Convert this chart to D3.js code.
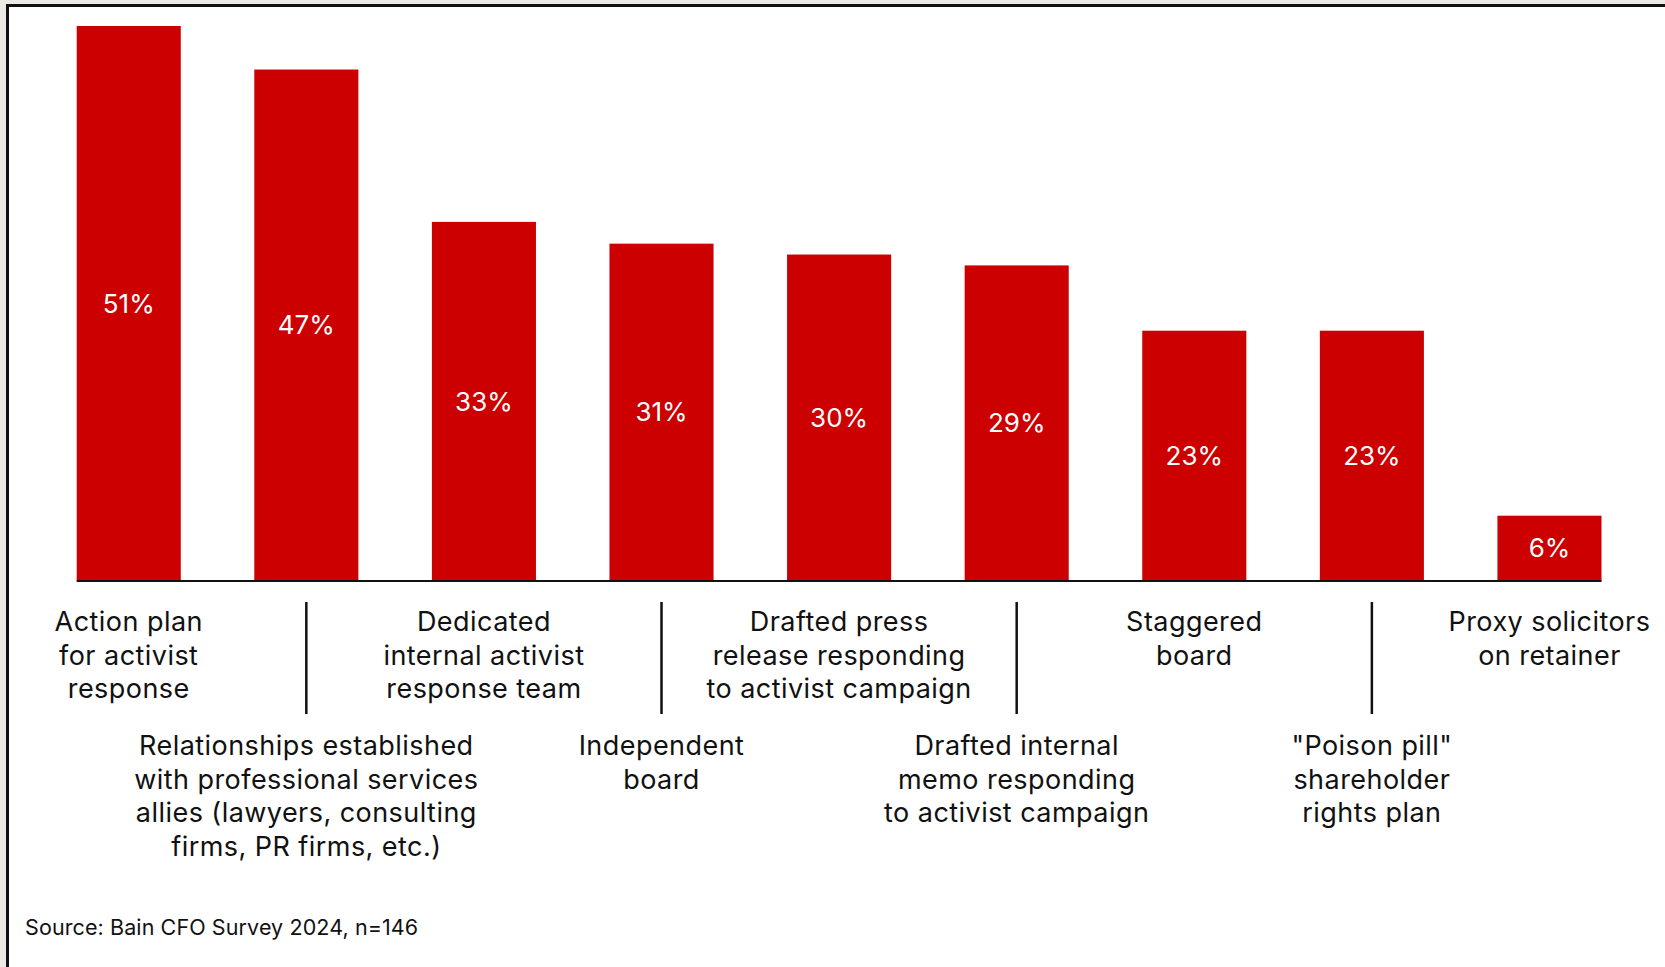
<!DOCTYPE html>
<html>
<head>
<meta charset="utf-8">
<script src="https://cdn.jsdelivr.net/npm/d3@7"></script>
<style>
    html, body { margin: 0; padding: 0; background: #ebeae3; }
    #frame {
        position: absolute; left: 6px; top: 3.5px;
        width: 1700px; height: 1000px;
        background: #fff;
        border-left: 3px solid #111; border-top: 3px solid #111;
    }
    svg { position: absolute; left: 0; top: 0; }
    text { font-family: Inter, "Noto Sans", sans-serif; }
</style>
</head>
<body>
<div id="frame"></div>
<svg id="chart" width="1665" height="967"></svg>
<script>
// bar data, left to right
const categories = [
    "Action plan", "Relationships", "Dedicated team", "Independent board",
    "Press release", "Internal memo", "Staggered board", "Poison pill", "Proxy solicitors"
];
const values = [51, 47, 33, 31, 30, 29, 23, 23, 6];
const labelLines = [
    ["Action plan", "for activist", "response"],
    ["Relationships established", "with professional services", "allies (lawyers, consulting", "firms, PR firms, etc.)"],
    ["Dedicated", "internal activist", "response team"],
    ["Independent", "board"],
    ["Drafted press", "release responding", "to activist campaign"],
    ["Drafted internal", "memo responding", "to activist campaign"],
    ["Staggered", "board"],
    ["\"Poison pill\"", "shareholder", "rights plan"],
    ["Proxy solicitors", "on retainer"]
];
const source = "Source: Bain CFO Survey 2024, n=146";

const svg = d3.select("#chart");
const baseY = 581;

const x = d3.scaleBand()
    .domain(categories)
    .range([76.7, 1601.5])
    .paddingInner(0.414)
    .paddingOuter(0);

const y = d3.scaleLinear()
    .domain([0, 51])
    .range([baseY, 26]);

// bars
svg.selectAll(".bar")
    .data(values)
    .join("rect")
    .attr("class", "bar")
    .attr("x", (d, i) => x(categories[i]))
    .attr("y", d => y(d))
    .attr("width", x.bandwidth())
    .attr("height", d => baseY - y(d))
    .attr("fill", "#cc0000");

// value labels
svg.selectAll(".val")
    .data(values)
    .join("text")
    .attr("class", "val")
    .attr("x", (d, i) => x(categories[i]) + x.bandwidth() / 2)
    .attr("y", d => (y(d) + baseY) / 2)
    .attr("dy", "0.35em")
    .attr("text-anchor", "middle")
    .attr("fill", "#fff")
    .attr("font-size", 26)
    .text(d => d + "%");

// baseline
svg.append("line")
    .attr("x1", x.range()[0]).attr("x2", x.range()[1])
    .attr("y1", baseY).attr("y2", baseY)
    .attr("stroke", "#111").attr("stroke-width", 2);

// connector ticks for the lower row of labels
svg.selectAll(".tick")
    .data(categories.filter((c, i) => i % 2 === 1))
    .join("line")
    .attr("class", "tick")
    .attr("x1", d => x(d) + x.bandwidth() / 2)
    .attr("x2", d => x(d) + x.bandwidth() / 2)
    .attr("y1", 602).attr("y2", 714)
    .attr("stroke", "#111").attr("stroke-width", 2.5);

// category labels, alternating rows
const lineH = 33.7;
svg.selectAll(".cat")
    .data(labelLines)
    .join("text")
    .attr("class", "cat")
    .attr("text-anchor", "middle")
    .attr("fill", "#111")
    .attr("font-size", 27)
    .attr("letter-spacing", 0.45)
    .attr("transform", (d, i) => `translate(${x(categories[i]) + x.bandwidth() / 2},${i % 2 === 0 ? 631 : 755})`)
    .selectAll("tspan")
    .data(d => d)
    .join("tspan")
    .attr("x", 0)
    .attr("y", (d, j) => j * lineH)
    .text(d => d);

svg.append("text")
    .attr("x", 25).attr("y", 935)
    .attr("fill", "#111")
    .attr("font-size", 21.5)
    .attr("letter-spacing", 0.1)
    .text(source);
</script>
</body>
</html>
